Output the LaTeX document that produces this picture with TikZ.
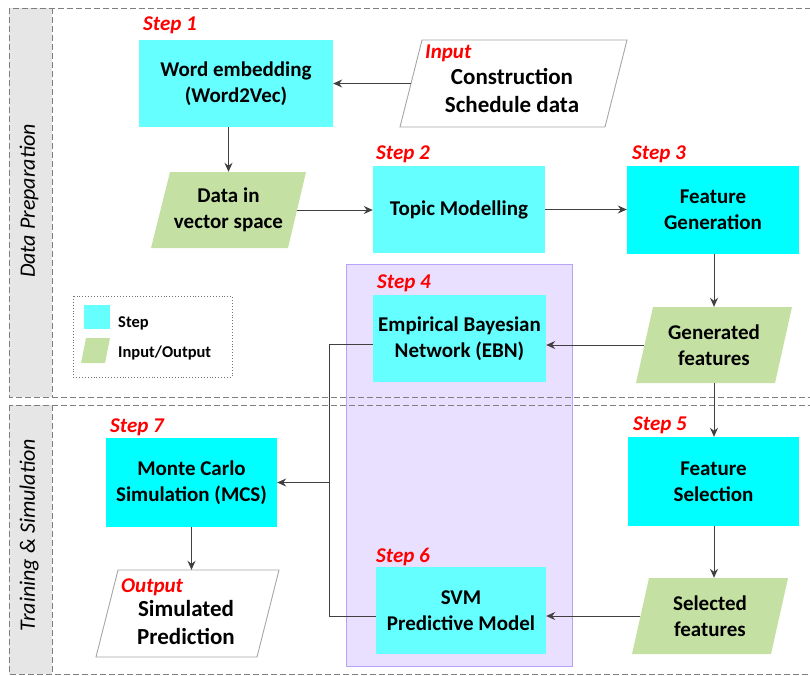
\documentclass[tikz,border=0pt]{standalone}
\usepackage{fontspec}
\setmainfont{Carlito}
\usetikzlibrary{arrows.meta}

\definecolor{lightcyan}{HTML}{66FFFF}
\definecolor{fullcyan}{HTML}{00FFFF}
\definecolor{iogreen}{HTML}{C5E0A3}
\definecolor{lilac}{HTML}{E9DFFF}
\definecolor{lilacline}{HTML}{B7A3FA}
\definecolor{stripgrey}{HTML}{E6E6E6}
\definecolor{panelgrey}{HTML}{7F7F7F}
\definecolor{arrowgrey}{HTML}{404040}

\begin{document}
\begin{tikzpicture}[x=1pt, y=-1pt]
    \tikzset{
      stepbox/.style = {inner sep=0pt, align=center, minimum width=172pt, minimum height=87pt,
                        font=\bfseries\fontsize{21}{26}\selectfont},
      iotext/.style = {inner sep=0pt, align=center, font=\bfseries\fontsize{21}{26}\selectfont},
      bigtext/.style = {inner sep=0pt, align=center, font=\bfseries\fontsize{23}{28}\selectfont},
      steplabel/.style = {anchor=base west, inner sep=0pt, text=red,
                          font=\bfseries\itshape\fontsize{21}{24}\selectfont},
      iogreenfill/.style = {fill=iogreen, draw=none},
      iowhite/.style = {fill=white, draw=black!35, line width=0.9pt},
      panel/.style = {draw=panelgrey, dashed, dash pattern=on 6pt off 3pt, line width=1pt},
      flow/.style = {draw=arrowgrey, line width=1pt, -{Stealth[length=9pt,width=8pt,inset=3pt]}},
      wire/.style = {draw=arrowgrey, line width=1pt}
    }
    \clip (0,0) rectangle (810,675);
    \fill[white] (0,0) rectangle (810,675);

    % riquadro viola
    \filldraw[fill=lilac, draw=lilacline, line width=1pt] (346,264) rectangle (572,666);

    % pannelli
    \fill[stripgrey] (9,8) rectangle (52,397);
    \fill[stripgrey] (9,405) rectangle (52,674);
    \draw[panel] (9,8) rectangle (840,397);
    \draw[panel] (52,8) -- (52,397);
    \draw[panel] (9,405) rectangle (840,674);
    \draw[panel] (52,405) -- (52,674);
    \node[rotate=90, inner sep=0pt, font=\itshape\fontsize{22}{25}\selectfont] (lprep) at (29,201) {Data Preparation};
    \node[rotate=90, inner sep=0pt, font=\itshape\fontsize{22}{25}\selectfont] (ltrain) at (29,535) {Training \& Simulation};

    % parallelogrammi
    \filldraw[iowhite] (400,127) -- (422,40) -- (627,40) -- (605,127) -- cycle;
    \fill[iogreenfill] (151,248) -- (170,172) -- (306,172) -- (288,248) -- cycle;
    \fill[iogreenfill] (636,383) -- (653,307) -- (792,307) -- (775,383) -- cycle;
    \fill[iogreenfill] (632,654) -- (649,578) -- (788,578) -- (771,654) -- cycle;
    \filldraw[iowhite] (96,657) -- (118,570) -- (279,570) -- (257,657) -- cycle;

    % passi
    \node[stepbox, fill=lightcyan, minimum width=194pt] (nword) at (236,83.5) {Word embedding\\(Word2Vec)};
    \node[stepbox, fill=lightcyan] (ntopic) at (459,209.5) {Topic Modelling};
    \node[stepbox, fill=fullcyan, minimum height=88pt] (nfeatgen) at (713,210) {Feature\\Generation};
    \node[stepbox, fill=lightcyan, minimum width=173pt] (nebn) at (459.5,338.5) {Empirical Bayesian\\Network (EBN)};
    \node[stepbox, fill=fullcyan, minimum width=171pt, minimum height=89pt] (nfeatsel) at (713.5,481.5) {Feature\\Selection};
    \node[stepbox, fill=lightcyan, minimum width=170pt] (nsvm) at (461,610.5) {SVM\\Predictive Model};
    \node[stepbox, fill=fullcyan, minimum width=171pt, minimum height=89pt] (nmcs) at (191.5,482.5) {Monte Carlo\\Simulation (MCS)};

    % ingressi e uscite
    \node[iotext, minimum width=205pt, minimum height=87pt] (ninput) at (513.5,83.5) {};
    \node[bigtext] (tinput) at (512,90) {Construction\\Schedule data};
    \node[iotext, minimum width=136pt, minimum height=76pt] (ndata) at (228.5,210) {Data in\\vector space};
    \node[iotext, minimum width=139pt, minimum height=76pt] (ngen) at (714,345) {Generated\\features};
    \node[iotext, minimum width=139pt, minimum height=76pt] (nsel) at (710,616) {Selected\\features};
    \node[iotext, minimum width=161pt, minimum height=87pt] (nout) at (187.5,613.5) {};
    \node[bigtext] (tout) at (186,623) {Simulated\\Prediction};

    % etichette
    \node[steplabel] (sone) at (143,30) {Step 1};
    \node[steplabel] (stwo) at (376,159) {Step 2};
    \node[steplabel] (sthree) at (632,159) {Step 3};
    \node[steplabel] (sfour) at (377,288) {Step 4};
    \node[steplabel] (sfive) at (633,430) {Step 5};
    \node[steplabel] (ssix) at (376,562) {Step 6};
    \node[steplabel] (sseven) at (110,432) {Step 7};
    \node[steplabel] (sin) at (425,58) {Input};
    \node[steplabel] (sout) at (121,592) {Output};

    % legenda
    \draw[draw=black!55, dotted, line width=0.9pt] (73,296) rectangle (232,377);
    \fill[lightcyan] (84,305) rectangle (110,329);
    \fill[iogreenfill] (81,363) -- (86,338) -- (110,338) -- (105,363) -- cycle;
    \node[anchor=base west, inner sep=0pt, font=\bfseries\fontsize{16.5}{19}\selectfont] (lstep) at (118,327) {Step};
    \node[anchor=base west, inner sep=0pt, font=\bfseries\fontsize{16.5}{19}\selectfont] (lio) at (118,357) {Input/Output};

    % frecce
    \coordinate (bus) at (329,344);
    \draw[flow] (ninput.west) -- (nword.east |- ninput.west);
    \draw[flow] (ndata.north |- nword.south) -- (ndata.north);
    \draw[flow] (ndata.east) -- (ntopic.west |- ndata.east);
    \draw[flow] (ntopic.east) -- (nfeatgen.west |- ntopic.east);
    \draw[flow] (ngen.north |- nfeatgen.south) -- (ngen.north);
    \draw[flow] (ngen.west) -- (nebn.east |- ngen.west);
    \draw[flow] (ngen.south) -- (ngen.south |- nfeatsel.north);
    \draw[flow] (ngen.south |- nfeatsel.south) -- (ngen.south |- nsel.north);
    \draw[flow] (nsel.west) -- (nsvm.east |- nsel.west);
    \draw[wire] (nebn.west |- bus) -- (bus) -- (bus |- nsel.west) -- (nsvm.west |- nsel.west);
    \draw[flow] (bus |- nmcs.east) -- (nmcs.east);
    \draw[flow] (nmcs.south) -- (nmcs.south |- nout.north);

\end{tikzpicture}
\end{document}
